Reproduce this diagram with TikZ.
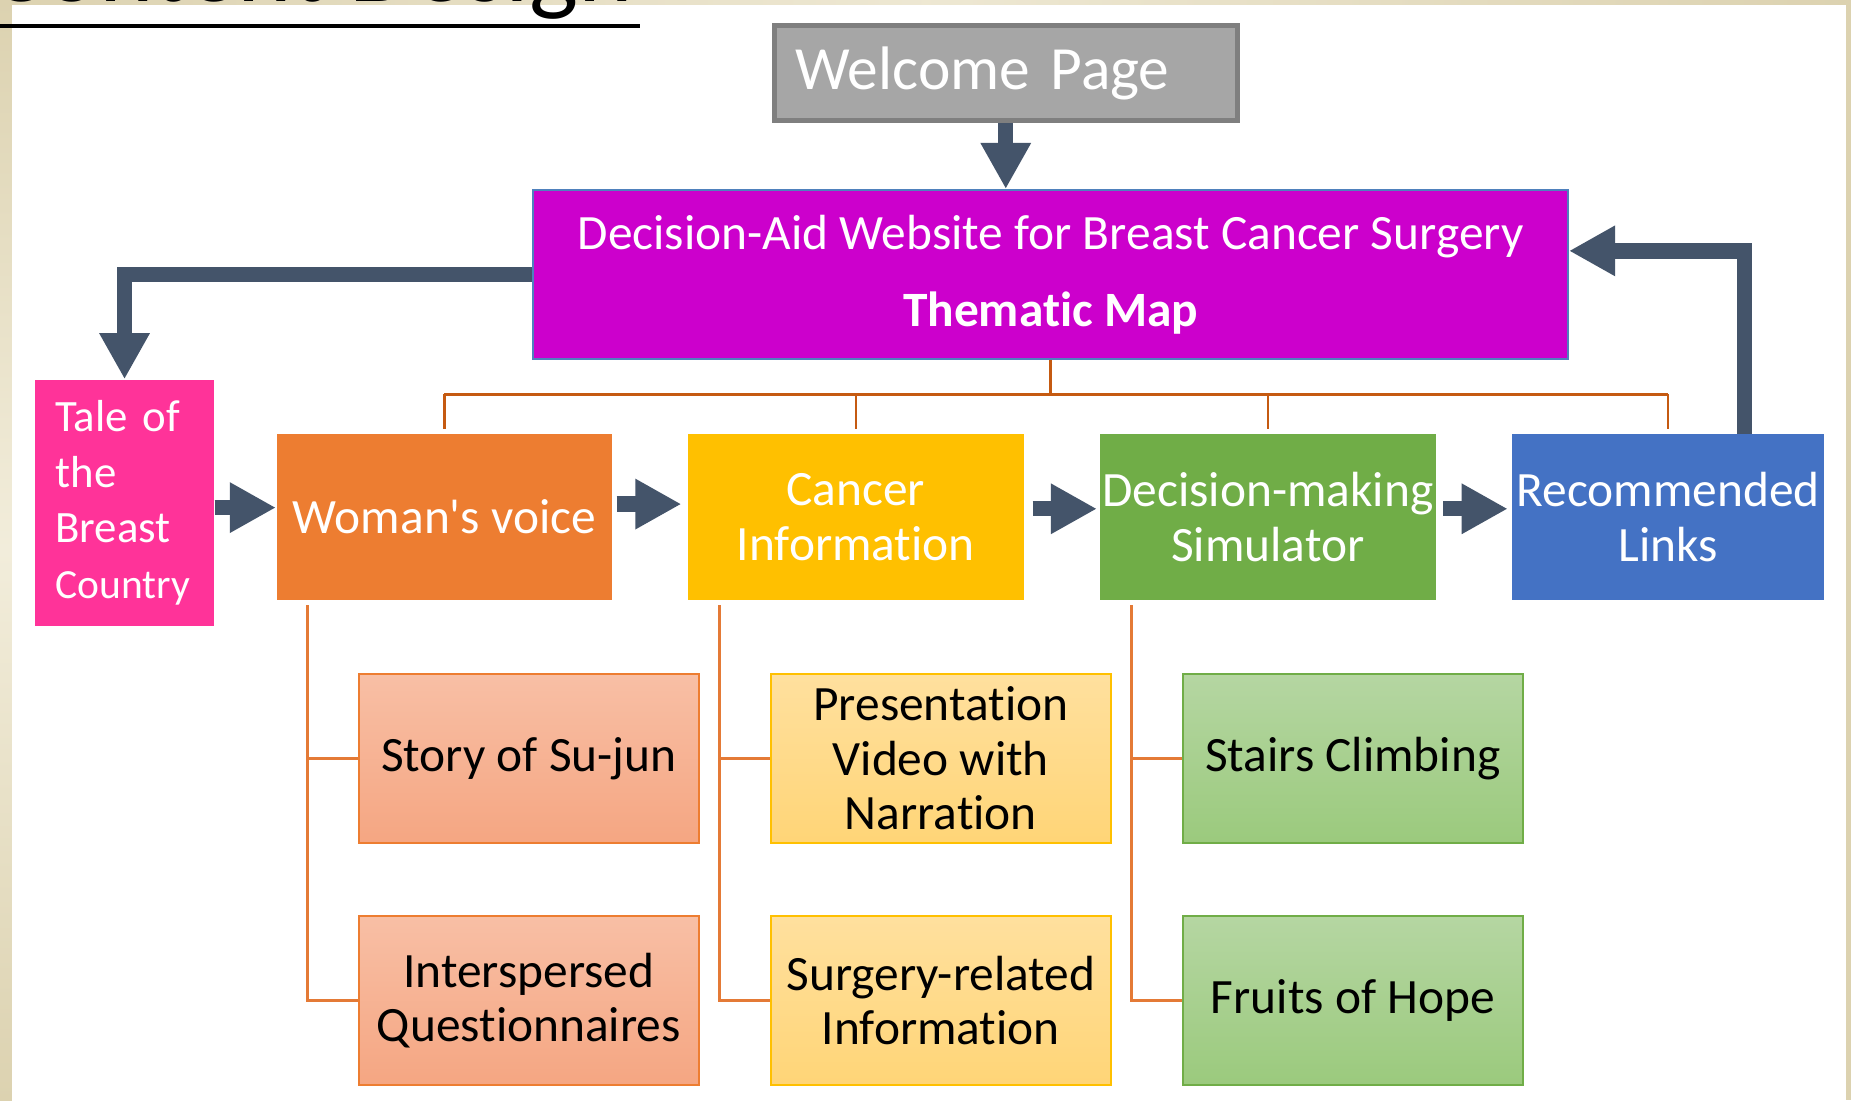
\documentclass[tikz,border=0pt]{standalone}
\usepackage{fontspec}
\setmainfont{Carlito}[Ligatures=NoCommon]
\usetikzlibrary{arrows.meta}
\definecolor{arrowslate}{HTML}{44546A}
\definecolor{welcomegray}{HTML}{A6A6A6}
\definecolor{welcomeline}{HTML}{7F7F7F}
\definecolor{mapmagenta}{HTML}{CC00CC}
\definecolor{mapline}{HTML}{4F81BD}
\definecolor{talepink}{HTML}{FF3399}
\definecolor{voiceorange}{HTML}{ED7D31}
\definecolor{canceryellow}{HTML}{FFC000}
\definecolor{decisiongreen}{HTML}{70AD47}
\definecolor{linksblue}{HTML}{4472C4}
\definecolor{busorange}{HTML}{C55A11}
\definecolor{treeorange}{HTML}{E47A36}
\definecolor{salmontop}{HTML}{F8BFA5}
\definecolor{salmonbottom}{HTML}{F5A682}
\definecolor{yellowtop}{HTML}{FFE09E}
\definecolor{yellowbottom}{HTML}{FFD577}
\definecolor{greentop}{HTML}{B5D6A2}
\definecolor{greenbottom}{HTML}{9BCA7D}
\definecolor{beigelight}{HTML}{F2EDDB}
\definecolor{beigedark}{HTML}{DCD2B0}
\begin{document}
\begin{tikzpicture}[x=0.01cm,y=-0.01cm,
  topbox/.style={inner sep=0pt,minimum width=2.84cm,minimum height=1.4cm,align=center,text=white,font=\fontsize{11.9}{13.1}\selectfont},
  subbox/.style={draw=#1,line width=0.5pt,inner sep=0pt,minimum width=2.88cm,minimum height=1.43cm,align=center,font=\fontsize{11.9}{13.1}\selectfont},
  blockarrow/.style={draw=arrowslate,line width=0.13cm,-{Triangle[length=0.39cm,width=0.40cm]}},
  busline/.style={draw=busorange,line width=0.6pt},
  treeline/.style={draw=treeorange,line width=0.75pt}]
\useasboundingbox (0,0) rectangle (1568,932);
\fill[white] (0,0) rectangle (1568,932);
\shade[top color=beigedark,bottom color=beigedark,middle color=beigelight] (0,0) rectangle (10,932);
\shade[left color=beigedark,right color=beigedark,middle color=beigelight!80!beigedark] (0,0) rectangle (1568,4);
\fill[beigedark] (1564,0) rectangle (1568,932);

\node[anchor=base east,inner sep=0pt,font=\fontsize{25}{30}\selectfont] (title) at (537,1) {Content Design};
\draw[line width=0.04cm] (0,22) -- (542,22);

\node[draw=welcomeline,line width=1.2pt,fill=welcomegray,text=white,inner ysep=0pt,inner xsep=0.18cm,
  text width=3.56cm,minimum height=0.8cm,align=left,font=\fontsize{14.8}{17}\selectfont] (welcome) at (852,62) {Welcome Page};
\node[topbox,draw=mapline,line width=0.5pt,fill=mapmagenta,minimum width=8.76cm,minimum height=1.43cm] (purple) at (890,232.5)
  {Decision-Aid Website for Breast Cancer Surgery\\[0.19cm]\textbf{Thematic Map}};

\node[topbox,fill=talepink,text width=1.17cm,inner xsep=0.17cm,minimum width=1.51cm,minimum height=2.08cm,align=left,
  font=\fontsize{10.8}{13.4}\selectfont] (tale) at (105.5,426) {Tale of\\the\\Breast\\{\fontsize{10}{13.4}\selectfont Country}};
\node[topbox,fill=voiceorange] (woman) at (376.5,438) {Woman\textquotesingle s voice};
\node[topbox,fill=canceryellow] (cancer) at (725,438) {Cancer\\Information};
\node[topbox,fill=decisiongreen] (decision) at (1074,438) {Decision-making\\Simulator};
\node[topbox,fill=linksblue,minimum width=2.64cm] (links) at (1413,438) {Recommended\\Links};

\node[subbox=voiceorange,top color=salmontop,bottom color=salmonbottom] (story) at (448,642.5) {Story of Su-jun};
\node[subbox=voiceorange,top color=salmontop,bottom color=salmonbottom] (quest) at (448,847.5) {Interspersed\\Questionnaires};
\node[subbox=canceryellow,top color=yellowtop,bottom color=yellowbottom] (video) at (797,642.5) {Presentation\\Video with\\Narration};
\node[subbox=canceryellow,top color=yellowtop,bottom color=yellowbottom] (surgery) at (797,847.5) {Surgery-related\\Information};
\node[subbox=decisiongreen,top color=greentop,bottom color=greenbottom] (stairs) at (1146,642.5) {Stairs Climbing};
\node[subbox=decisiongreen,top color=greentop,bottom color=greenbottom] (fruits) at (1146,847.5) {Fruits of Hope};

\draw[blockarrow] (welcome.south) -- (welcome.south |- purple.north);
\draw[blockarrow] (purple.west) -| (tale.north);
\draw[blockarrow] ([xshift=0.65cm]links.north) |- ([yshift=0.2cm]purple.east);
\draw[blockarrow] (tale.east |- 0,430) -- (woman.west |- 0,430);
\draw[blockarrow] ([xshift=0.03cm,yshift=0.11cm]woman.east) -- ([xshift=-0.05cm,yshift=0.11cm]cancer.west);
\draw[blockarrow] ([xshift=0.07cm,yshift=0.07cm]cancer.east) -- ([xshift=-0.02cm,yshift=0.07cm]decision.west);
\draw[blockarrow] ([xshift=0.06cm,yshift=0.07cm]decision.east) -- ([xshift=-0.03cm,yshift=0.07cm]links.west);

\coordinate (bus) at (890,334);
\draw[busline] (purple.south) -- (bus);
\draw[busline] (woman.north |- bus) -- (links.north |- bus);
\foreach \n in {woman,cancer,decision,links}
  \draw[busline] (\n.north |- bus) -- ([yshift=0.04cm]\n.north);

\foreach \mainbox/\upbox/\downbox in {woman/story/quest,cancer/video/surgery,decision/stairs/fruits}{
  \coordinate (tree\mainbox) at ([xshift=0.27cm,yshift=-0.04cm]\mainbox.south west);
  \draw[treeline] (tree\mainbox) |- (\downbox.west);
  \draw[treeline] (\upbox.west -| tree\mainbox) -- (\upbox.west);
}
\end{tikzpicture}
\end{document}
